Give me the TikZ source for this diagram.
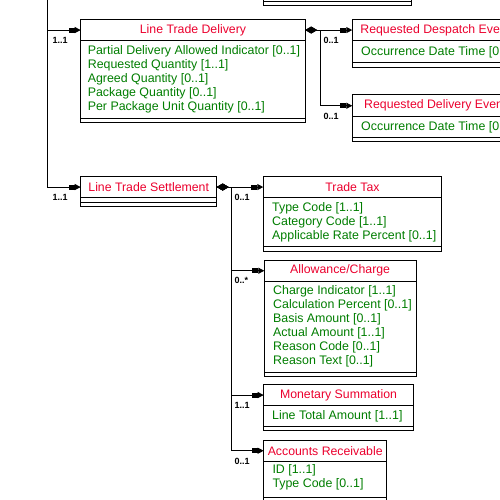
\documentclass[tikz,border=0pt]{standalone}
\usepackage{fontspec}
\setmainfont{Liberation Sans}
\usetikzlibrary{arrows.meta}
\definecolor{clsred}{RGB}{235,0,45}
\definecolor{attgreen}{RGB}{0,125,0}
\tikzset{
	hdr/.style={draw, anchor=north west, outer sep=0pt, inner sep=0pt, minimum height=21.5pt, text=clsred, font=\fontsize{12.3}{14}\selectfont},
	body/.style={draw, anchor=north west, outer sep=0pt, inner sep=0pt},
	foot/.style={draw, anchor=north west, outer sep=0pt, inner sep=0pt, minimum height=4.3pt},
	attlist/.style={anchor=west, inner sep=0pt, align=left, text=attgreen, font=\fontsize{12.4}{14}\selectfont},
	assoc/.style={-{Square[length=6pt,width=5pt]Triangle[length=6pt,width=6pt]}},
	comp/.style={{Diamond[length=12pt,width=7pt]}-{Square[length=6pt,width=5pt]Triangle[length=6pt,width=6pt]}},
	mult/.style={anchor=west, inner sep=0pt, font=\fontsize{9}{10}\selectfont\bfseries}
}
\begin{document}
\begin{tikzpicture}[x=1pt, y=-1pt, line width=1pt]
		\useasboundingbox (0,0) rectangle (500,500);
		\clip (0,0) rectangle (500,500);

		\node[body, anchor=south west, minimum width=148.4pt, minimum height=30pt] (prevA) at (263.3,1.3) {};
		\node[foot, minimum width=148.4pt] (prevF) at (prevA.south west) {};

		\node[hdr, minimum width=224.5pt] (ltd) at (80.7,19.3) {Line Trade Delivery};
		\node[body, minimum width=224.5pt, minimum height=77.5pt] (ltdA) at (ltd.south west) {};
		\node[foot, minimum width=224.5pt] (ltdF) at (ltdA.south west) {};
		\node[attlist] (ltdL) at ([xshift=6.6pt]ltdA.west) {Partial Delivery Allowed Indicator [0..1]\\Requested Quantity [1..1]\\Agreed Quantity [0..1]\\Package Quantity [0..1]\\Per Package Unit Quantity [0..1]};

		\node[hdr, minimum width=166pt] (rdsp) at (352.3,19.3) {Requested Despatch Event};
		\node[body, minimum width=166pt, minimum height=22pt] (rdspA) at (rdsp.south west) {};
		\node[foot, minimum width=166pt] (rdspF) at (rdspA.south west) {};
		\node[attlist] (rdspL) at ([xshift=8.4pt]rdspA.west) {Occurrence Date Time [0..1]};

		\node[hdr, minimum width=166pt] (rdlv) at (352.3,95) {Requested Delivery Event};
		\node[body, minimum width=166pt, minimum height=21pt] (rdlvA) at (rdlv.south west) {};
		\node[foot, minimum width=166pt] (rdlvF) at (rdlvA.south west) {};
		\node[attlist] (rdlvL) at ([xshift=8.4pt]rdlvA.west) {Occurrence Date Time [0..1]};

		\node[hdr, minimum width=136pt] (lts) at (80.7,176.3) {Line Trade Settlement};
		\node[foot, minimum width=136pt] (ltsA) at (lts.south west) {};
		\node[foot, minimum width=136pt] (ltsF) at (ltsA.south west) {};

		\node[hdr, minimum width=178.4pt] (tt) at (263.3,176.3) {Trade Tax};
		\node[body, minimum width=178.4pt, minimum height=49pt] (ttA) at (tt.south west) {};
		\node[foot, minimum width=178.4pt] (ttF) at (ttA.south west) {};
		\node[attlist] (ttL) at ([xshift=8.4pt]ttA.west) {Type Code [1..1]\\Category Code [1..1]\\Applicable Rate Percent [0..1]};

		\node[hdr, minimum width=151.7pt] (ac) at (264.3,260) {Allowance/Charge};
		\node[body, minimum width=151.7pt, minimum height=90.5pt] (acA) at (ac.south west) {};
		\node[foot, minimum width=151.7pt] (acF) at (acA.south west) {};
		\node[attlist] (acL) at ([xshift=8.4pt]acA.west) {Charge Indicator [1..1]\\Calculation Percent [0..1]\\Basis Amount [0..1]\\Actual Amount [1..1]\\Reason Code [0..1]\\Reason Text [0..1]};

		\node[hdr, minimum width=149.6pt] (ms) at (263.7,384.3) {Monetary Summation};
		\node[body, minimum width=149.6pt, minimum height=20.5pt] (msA) at (ms.south west) {};
		\node[foot, minimum width=149.6pt] (msF) at (msA.south west) {};
		\node[attlist] (msL) at ([xshift=8pt]msA.west) {Line Total Amount [1..1]};

		\node[hdr, minimum width=123pt] (ar) at (263.7,440) {Accounts Receivable};
		\node[body, minimum width=123pt, minimum height=35.7pt] (arA) at (ar.south west) {};
		\node[foot, minimum width=123pt] (arF) at (arA.south west) {};
		\node[attlist, anchor=north west] (arL) at ([xshift=8.3pt,yshift=-2.5pt]arA.north west) {ID [1..1]\\Type Code [0..1]};

		\coordinate (up) at (47,-10);
		\draw[assoc] (up) |- (ltd.west);
		\draw[assoc] (up) |- (lts.west);
		\draw[comp] (ltd.east) -- (rdsp.west);
		\draw[comp] (ltd.east) -- ++(15,0) |- (rdlv.west);
		\draw[comp] (lts.east) -- (tt.west);
		\draw[comp] (lts.east) -- ++(14.3,0) |- (ac.west);
		\draw[comp] (lts.east) -- ++(14.3,0) |- (ms.west);
		\draw[comp] (lts.east) -- ++(14.3,0) |- (ar.west);

		\node[mult] (m1) at (52,40.5) {1..1};
		\node[mult] (m2) at (52,197.7) {1..1};
		\node[mult] (m3) at (323,40.5) {0..1};
		\node[mult] (m4) at (323,116) {0..1};
		\node[mult] (m5) at (234,197.7) {0..1};
		\node[mult] (m6) at (234,280.5) {0..*};
		\node[mult] (m7) at (234,405.7) {1..1};
		\node[mult] (m8) at (234,461) {0..1};
	\end{tikzpicture}
\end{document}
